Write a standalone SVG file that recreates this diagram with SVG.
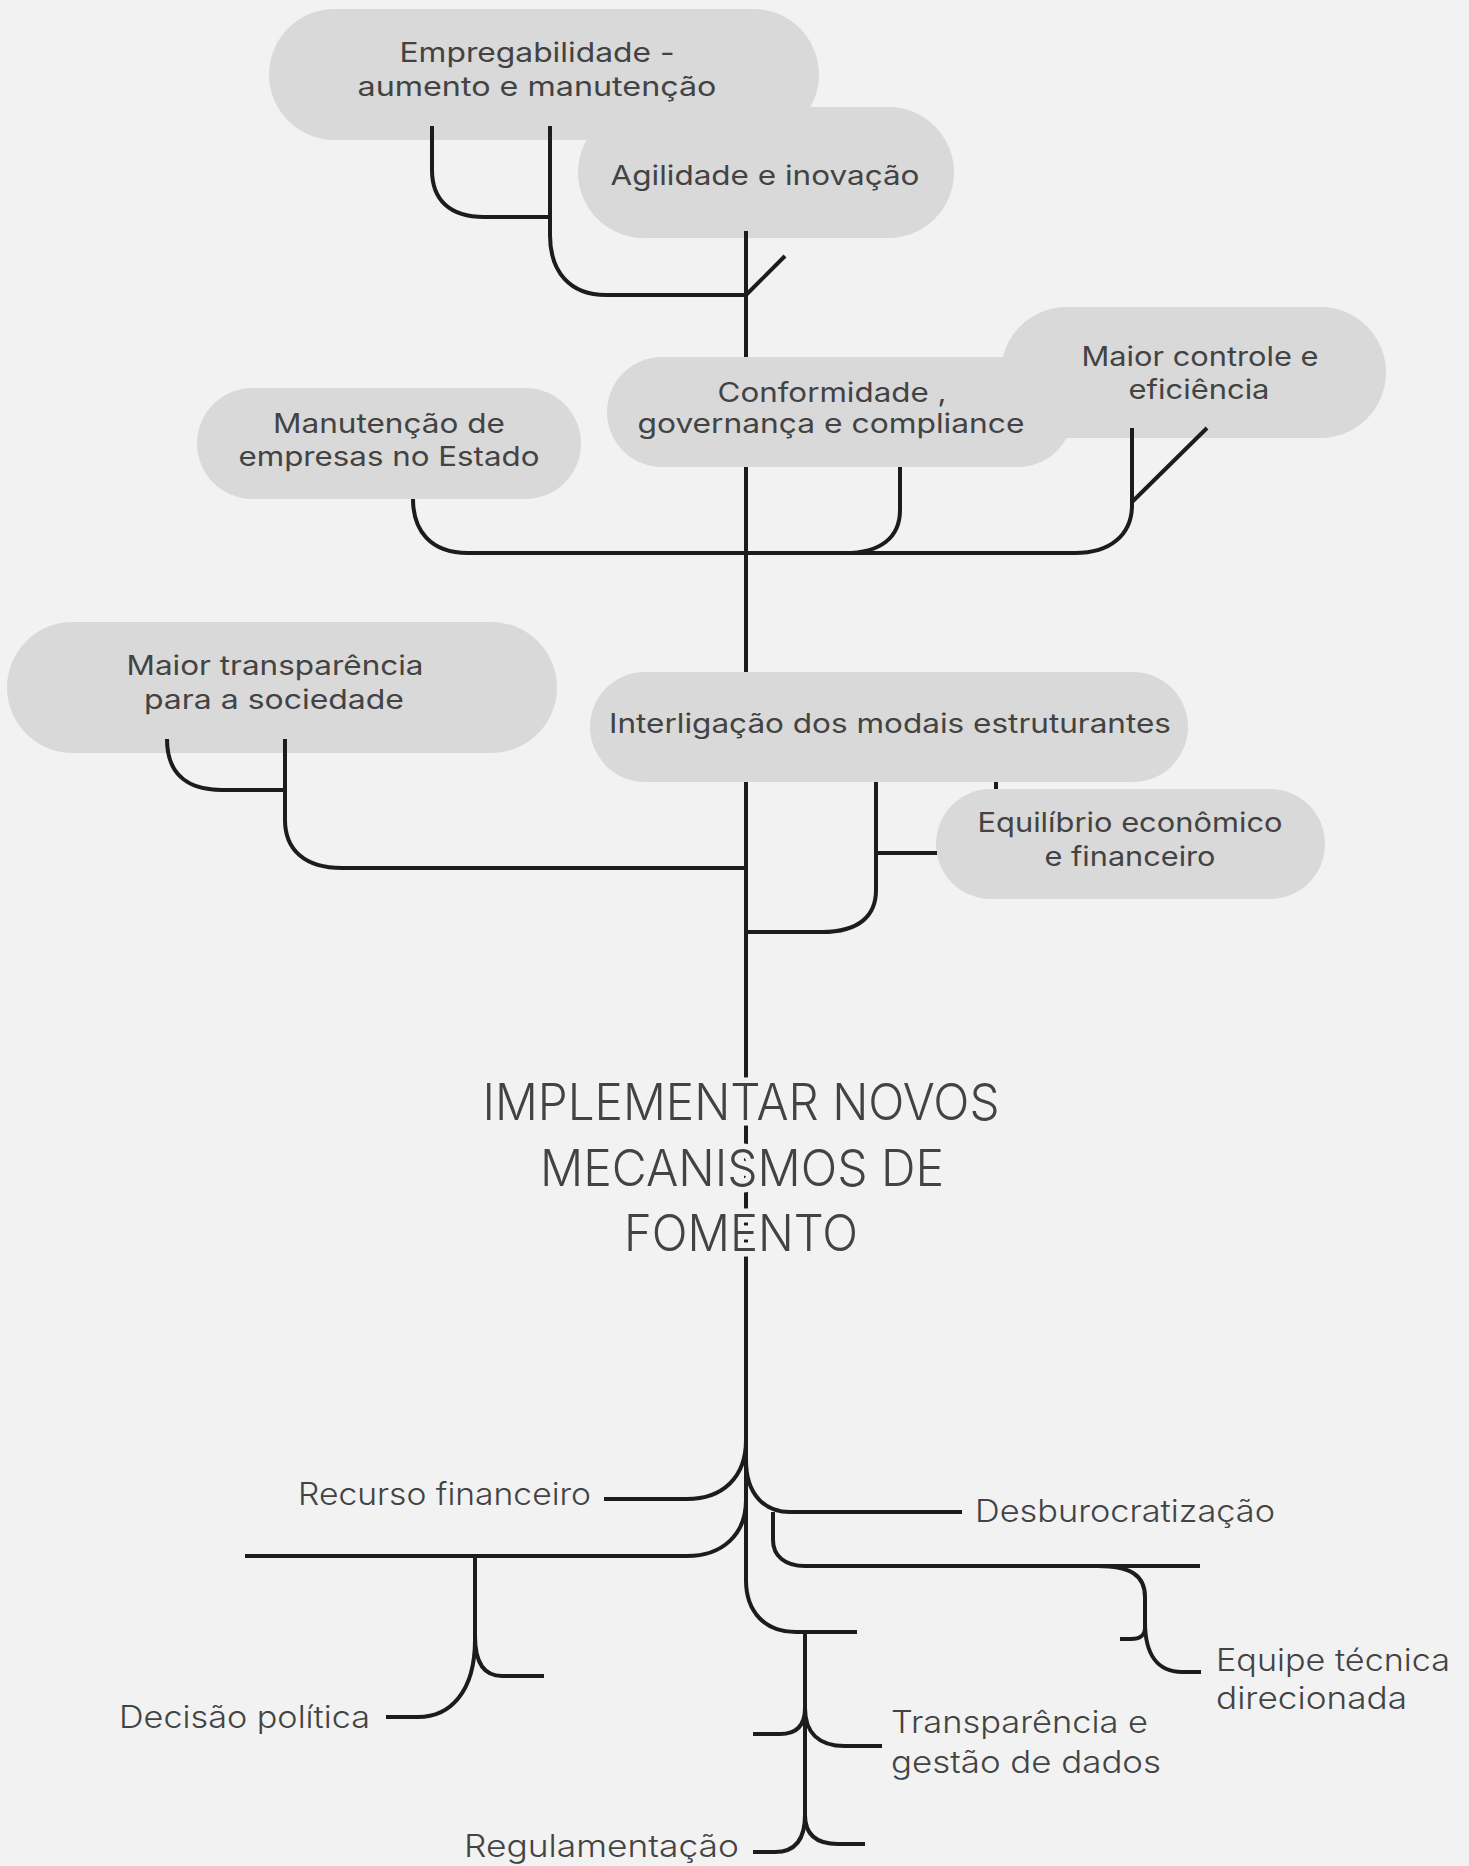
<svg xmlns="http://www.w3.org/2000/svg" width="1469" height="1866" viewBox="0 0 1469 1866">
<style>
.bg{fill:#f1f2f1}
.pill{fill:#d9d9d9}
.pt{font-family:Inter,"Noto Sans",sans-serif;font-size:27px;fill:#434343;text-anchor:middle}
.lb{font-family:Inter,"Noto Sans",sans-serif;font-weight:300;font-size:31px;fill:#434343}
.ttl{font-family:Inter,"Noto Sans",sans-serif;font-weight:300;font-size:50px;fill:#434343;text-anchor:middle;stroke:#f1f2f1;stroke-width:11px;stroke-linejoin:round;paint-order:stroke}
.ln{fill:none;stroke:#1c1c1c;stroke-width:4;stroke-linecap:butt;stroke-linejoin:round}
</style>
<rect class="bg" x="0" y="0" width="1469" height="1866"/>

<g id="n-empregabilidade"><rect class="pill" x="269" y="9" width="550" height="131" rx="65.5"/>
<text class="pt" x="537" y="62" textLength="275" lengthAdjust="spacingAndGlyphs">Empregabilidade -</text><text class="pt" x="537" y="96" textLength="359" lengthAdjust="spacingAndGlyphs">aumento e manutenção</text></g>
<g id="n-agilidade"><rect class="pill" x="578" y="107" width="376" height="131" rx="65.5"/>
<text class="pt" x="765" y="185" textLength="309" lengthAdjust="spacingAndGlyphs">Agilidade e inovação</text></g>
<g id="n-maior-controle"><rect class="pill" x="1001" y="307" width="385" height="131" rx="65.5"/>
<text class="pt" x="1200" y="366" textLength="237" lengthAdjust="spacingAndGlyphs">Maior controle e</text><text class="pt" x="1199" y="399" textLength="141" lengthAdjust="spacingAndGlyphs">eficiência</text></g>
<g id="n-manutencao"><rect class="pill" x="197" y="388" width="384" height="111" rx="55.5"/>
<text class="pt" x="389" y="433" textLength="232" lengthAdjust="spacingAndGlyphs">Manutenção de</text><text class="pt" x="389" y="466" textLength="301" lengthAdjust="spacingAndGlyphs">empresas no Estado</text></g>
<g id="n-conformidade"><rect class="pill" x="607" y="357" width="466" height="110" rx="55"/>
<text class="pt" x="832" y="402" textLength="229" lengthAdjust="spacingAndGlyphs">Conformidade ,</text><text class="pt" x="831" y="433" textLength="387" lengthAdjust="spacingAndGlyphs">governança e compliance</text></g>
<g id="n-transparencia-sociedade"><rect class="pill" x="7" y="622" width="550" height="131" rx="65.5"/>
<text class="pt" x="275" y="675" textLength="297" lengthAdjust="spacingAndGlyphs">Maior transparência</text><text class="pt" x="274" y="709" textLength="260" lengthAdjust="spacingAndGlyphs">para a sociedade</text></g>
<g id="n-interligacao"><rect class="pill" x="590" y="672" width="598" height="110" rx="55"/>
<text class="pt" x="890" y="733" textLength="562" lengthAdjust="spacingAndGlyphs">Interligação dos modais estruturantes</text></g>
<g id="n-equilibrio"><rect class="pill" x="936" y="789" width="389" height="110" rx="55"/>
<text class="pt" x="1130" y="832" textLength="305" lengthAdjust="spacingAndGlyphs">Equilíbrio econômico</text><text class="pt" x="1130" y="866" textLength="171" lengthAdjust="spacingAndGlyphs">e financeiro</text></g>

<g id="connectors">
<path class="ln" d="M746,231 L746,357 M746,467 L746,672 M746,782 L746,1445"/>
<path class="ln" d="M432,126 L432,170 C432,200 450,217 484,217 L550,217"/>
<path class="ln" d="M550,126 L550,235 C550,272 570,295 606,295 L746,295"/>
<path class="ln" d="M746,295 L785,256"/>
<path class="ln" d="M413,499 C413,530 430,553 468,553 L1075,553 C1110,553 1132,535 1132,505 L1132,428"/>
<path class="ln" d="M900,467 L900,510 C900,538 880,553 845,553"/>
<path class="ln" d="M1132,502 L1207,428"/>
<path class="ln" d="M167,739 C167,772 185,790 222,790 L285,790"/>
<path class="ln" d="M285,739 L285,820 C285,850 305,868 342,868 L746,868"/>
<path class="ln" d="M876,782 L876,890 C876,915 860,932 822,932 L746,932"/>
<path class="ln" d="M996,782 L996,789"/>
<path class="ln" d="M876,853 L937,853"/>
<path class="ln" d="M746,1440 C746,1478 722,1499 687,1499 L604,1499"/>
<path class="ln" d="M746,1460 C746,1495 765,1512 790,1512 L962,1512"/>
<path class="ln" d="M746,1500 C746,1535 722,1556 687,1556 L245,1556"/>
<path class="ln" d="M746,1440 L746,1580 C746,1612 765,1632 796,1632 L857,1632"/>
<path class="ln" d="M773,1512 L773,1540 C773,1556 785,1566 805,1566 L1200,1566"/>
<path class="ln" d="M1098,1566 C1130,1566 1145,1575 1145,1597 L1145,1628 C1145,1635 1140,1639 1131,1639 L1120,1639"/>
<path class="ln" d="M1145,1622 C1145,1655 1158,1672 1182,1672 L1201,1672"/>
<path class="ln" d="M475,1556 L475,1640 C475,1692 450,1717 418,1717 L386,1717"/>
<path class="ln" d="M475,1636 C475,1664 485,1676 502,1676 L544,1676"/>
<path class="ln" d="M805,1632 L805,1823"/>
<path class="ln" d="M805,1708 C805,1726 796,1734 780,1734 L753,1734"/>
<path class="ln" d="M805,1708 C805,1732 818,1746 845,1746 L882,1746"/>
<path class="ln" d="M805,1815 C805,1838 796,1852 775,1852 L753,1852"/>
<path class="ln" d="M805,1815 C805,1833 815,1844 838,1844 L865,1844"/>
</g>

<g id="n-title">
<text class="ttl" x="741" y="1120" textLength="517" lengthAdjust="spacingAndGlyphs">IMPLEMENTAR NOVOS</text>
<text class="ttl" x="742" y="1186" textLength="404" lengthAdjust="spacingAndGlyphs">MECANISMOS DE</text>
<text class="ttl" x="741" y="1251" textLength="234" lengthAdjust="spacingAndGlyphs">FOMENTO</text>
</g>
<g id="n-recurso"><text class="lb" x="298" y="1505" textLength="293" lengthAdjust="spacingAndGlyphs">Recurso financeiro</text></g>
<g id="n-desburocratizacao"><text class="lb" x="975" y="1522" textLength="300" lengthAdjust="spacingAndGlyphs">Desburocratização</text></g>
<g id="n-equipe"><text class="lb" x="1216" y="1671" textLength="234" lengthAdjust="spacingAndGlyphs">Equipe técnica</text><text class="lb" x="1216" y="1709" textLength="191" lengthAdjust="spacingAndGlyphs">direcionada</text></g>
<g id="n-transparencia-dados"><text class="lb" x="891" y="1733" textLength="257" lengthAdjust="spacingAndGlyphs">Transparência e</text><text class="lb" x="891" y="1773" textLength="270" lengthAdjust="spacingAndGlyphs">gestão de dados</text></g>
<g id="n-decisao"><text class="lb" x="119" y="1728" textLength="251" lengthAdjust="spacingAndGlyphs">Decisão política</text></g>
<g id="n-regulamentacao"><text class="lb" x="464" y="1857" textLength="275" lengthAdjust="spacingAndGlyphs">Regulamentação</text></g>
</svg>
